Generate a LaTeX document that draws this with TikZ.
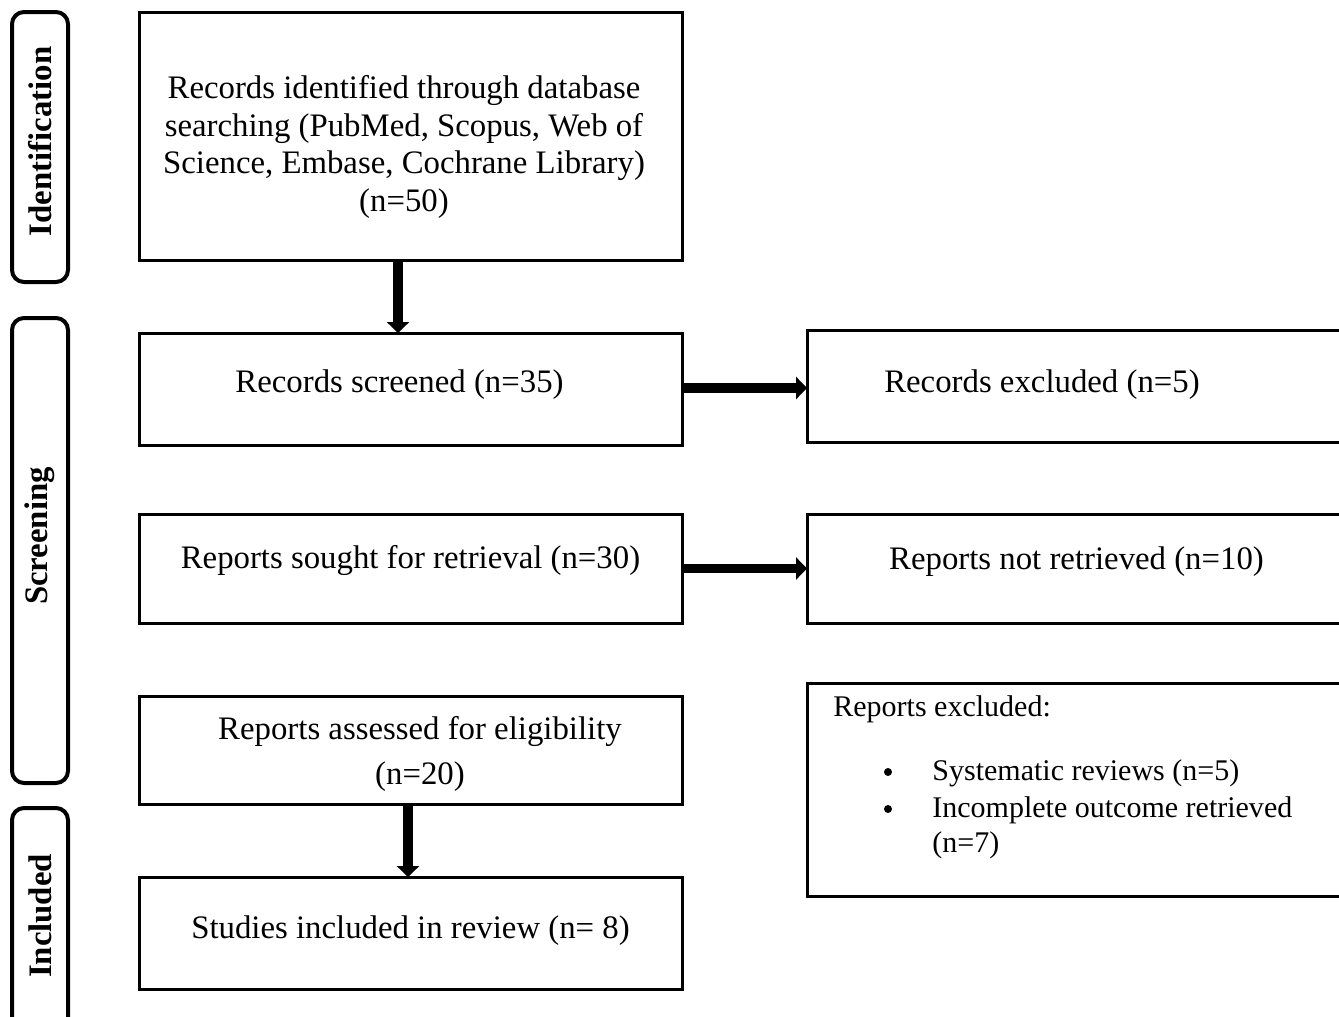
\documentclass[tikz,border=0pt]{standalone}
\usepackage{fontspec}
\setmainfont{Liberation Serif}
\usetikzlibrary{arrows.meta}
\begin{document}
\begin{tikzpicture}[x=0.5pt,y=-0.5pt,
  blk/.style={draw, line width=1.5pt, inner sep=0pt, outer sep=0pt},
  lbox/.style={blk, minimum width=271.5pt},
  rbox/.style={blk, minimum width=296.5pt},
  side/.style={draw, line width=2pt, rounded corners=6pt, inner sep=0pt, minimum width=28pt},
  txt/.style={inner sep=0pt, align=center, font=\fontsize{16.4}{18.9}\selectfont},
  stxt/.style={inner sep=0pt, align=left, font=\fontsize{15}{17.5}\selectfont},
  bullet/.style={circle, fill, inner sep=0pt, minimum size=4pt},
  sidetxt/.style={inner sep=0pt, rotate=90, font=\fontsize{16.4}{18.9}\selectfont\bfseries},
  arr/.style={line width=4.6pt, -{Triangle[width=11pt,length=5.5pt]}}
]
\clip (0,0) rectangle (1339,1017);
\fill[white] (0,0) rectangle (1339,1017);

% side boxes
\node[side, minimum height=135pt] (s1) at (40,147) {};
\node[side, minimum height=232.5pt] (s2) at (40,550.5) {};
\node[side, minimum height=126pt] (s3) at (40,934) {};
\node[sidetxt] (s1t) at (40,141.5) {Identification};
\node[sidetxt] (s2t) at (40,536) {Screening};
\node[sidetxt] (s3t) at (40,916) {Included};

% left column
\node[lbox, minimum height=124pt] (b1) at (410.5,136) {};
\node[lbox, minimum height=56pt] (b2) at (410.5,389) {};
\node[lbox, minimum height=54.5pt] (b3) at (410.5,568.5) {};
\node[lbox, minimum height=54pt] (b4) at (410.5,750) {};
\node[lbox, minimum height=56pt] (b5) at (410.5,933) {};

% right column
\node[rbox, minimum height=56pt] (r1) at (1103.5,386) {};
\node[rbox, minimum height=54.5pt] (r2) at (1103.5,568.5) {};
\node[rbox, minimum height=106.5pt] (r3) at (1103.5,789.5) {};

% texts
\node[txt] (b1t) at (404,147) {Records identified through database\\searching (PubMed, Scopus, Web of\\Science, Embase, Cochrane Library)\\(n=50)};
\node[txt] (b2t) at (399.5,385) {Records screened (n=35)};
\node[txt] (b3t) at (410.5,560) {Reports sought for retrieval (n=30)};
\node[txt, font=\fontsize{16.4}{22.5}\selectfont] (b4t) at (420,754) {Reports assessed for eligibility\\(n=20)};
\node[txt] (b5t) at (410.5,931) {Studies included in review (n= 8)};
\node[txt] (r1t) at (1042,385) {Records excluded (n=5)};
\node[txt] (r2t) at (1076.5,562) {Reports not retrieved (n=10)};

\node[stxt, anchor=west] (r3h) at (833,709) {Reports excluded:};
\node[bullet] (bul1) at (888,772) {};
\node[bullet] (bul2) at (888,809) {};
\node[stxt, anchor=west] (i1) at (932,773) {Systematic reviews (n=5)};
\node[stxt, anchor=west] (i2) at (932,828) {Incomplete outcome retrieved\\(n=7)};

% arrows
\draw[arr] ([xshift=-6.25pt]b1.south) -- ([xshift=-6.25pt]b2.north);
\draw[arr] ([yshift=0.5pt]b2.east) -- ([yshift=0.5pt]b2.east -| r1.west);
\draw[arr] (b3.east) -- (b3.east -| r2.west);
\draw[arr] ([xshift=-1.25pt]b4.south) -- ([xshift=-1.25pt]b5.north);
\end{tikzpicture}
\end{document}
